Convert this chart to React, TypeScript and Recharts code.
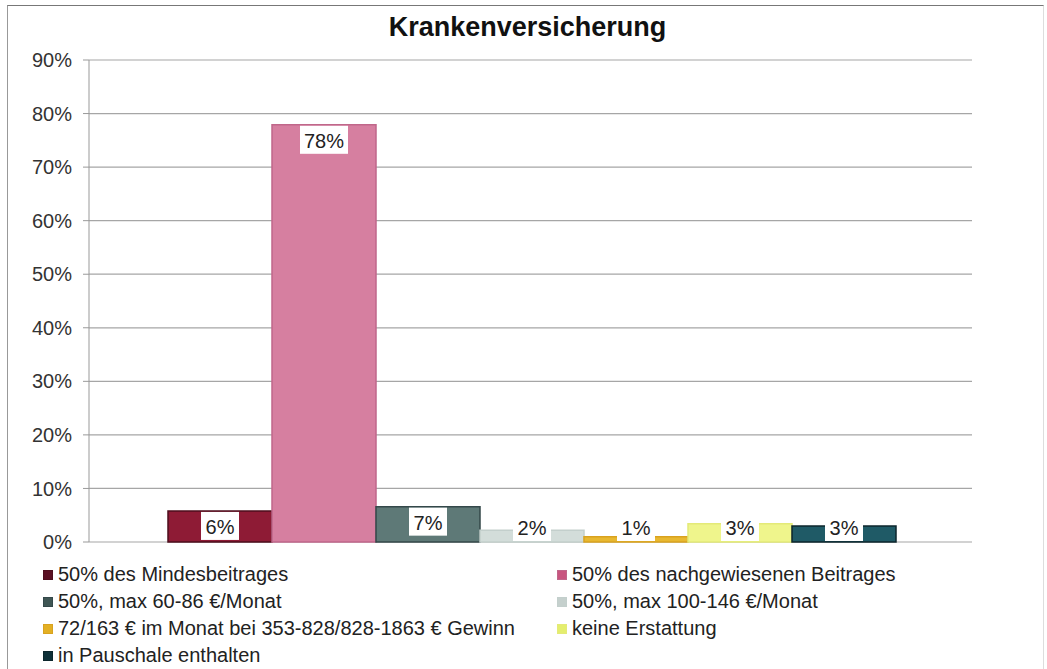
import React from "react";
import { BarChart, Bar, XAxis, YAxis, CartesianGrid, Legend, LabelList } from "recharts";

const categories = ["Krankenversicherung"];
const seriesNames = [
  "50% des Mindesbeitrages",
  "50% des nachgewiesenen Beitrages",
  "50%, max 60-86 €/Monat",
  "50%, max 100-146 €/Monat",
  "72/163 € im Monat bei 353-828/828-1863 € Gewinn",
  "keine Erstattung",
  "in Pauschale enthalten",
];
const seriesValues = [5.8, 77.9, 6.6, 2.2, 1.0, 3.4, 3.0];
const yTicks = [0, 10, 20, 30, 40, 50, 60, 70, 80, 90];

const fills = ["#8E1B35", "#D67FA0", "#5E7977", "#D3DDDA", "#E8B830", "#EFF58C", "#1F5A66"];
const strokes = ["#4E0E1D", "#C0678A", "#34484A", "#C3CFCC", "#D9A21F", "#E4EA78", "#0C262C"];
const markerFills = ["#5A0F22", "#C8557F", "#3F5654", "#C5D0CD", "#E3B024", "#E4EE6E", "#0E3038"];

const FONT = "'Liberation Sans', Arial, sans-serif";

const data = categories.map((c) => {
  const row: Record<string, string | number> = { name: c };
  seriesValues.forEach((v, i) => (row["s" + i] = v));
  return row;
});

const BoxLabel = (props: any) => {
  const { x, y, width, height, value } = props;
  const text = `${Math.round(value)}%`;
  const bh = 28;
  const bw = 18 + 10 * text.length;
  const base = y + height;
  const top = Math.min(y + 1, base - bh - 1);
  const cx = x + width / 2;
  return (
    <g>
      <rect x={cx - bw / 2} y={top} width={bw} height={bh} fill="#ffffff" />
      <text
        x={cx}
        y={top + bh / 2 + 1}
        textAnchor="middle"
        dominantBaseline="central"
        fontFamily={FONT}
        fontSize={20}
        fill="#222"
      >
        {text}
      </text>
    </g>
  );
};

const LegendContent = () => (
  <div
    style={{
      display: "grid",
      gridTemplateColumns: "514px 480px",
      gridAutoRows: "27px",
      fontFamily: FONT,
      fontSize: 20,
      color: "#222",
    }}
  >
    {seriesNames.map((n, i) => (
      <div key={n} style={{ display: "flex", alignItems: "center", whiteSpace: "nowrap" }}>
        <span
          style={{
            display: "inline-block",
            width: 8,
            height: 8,
            background: markerFills[i],
            border: `1px solid ${strokes[i]}`,
            marginRight: 5,
          }}
        />
        {n}
      </div>
    ))}
  </div>
);

export default function App() {
  return (
    <div style={{ position: "absolute", left: 0, top: 0, width: 1047, height: 669, background: "#fff", overflow: "hidden" }}>
      <div
        style={{
          position: "absolute",
          left: 7,
          top: 5,
          width: 1035,
          height: 700,
          borderTop: "1px solid #777",
          borderLeft: "1px solid #999",
          borderRight: "1px solid #ddd",
        }}
      />
      <div
        style={{
          position: "absolute",
          left: 0,
          width: 1055,
          top: 12,
          textAlign: "center",
          fontFamily: FONT,
          fontWeight: "bold",
          fontSize: 27,
          color: "#111",
        }}
      >
        Krankenversicherung
      </div>
      <BarChart
        width={1047}
        height={669}
        data={data}
        margin={{ top: 60, right: 75, left: 9, bottom: 127 }}
        barCategoryGap={79}
        barGap={0}
      >
        <CartesianGrid vertical={false} stroke="#a6a6a6" strokeWidth={1.2} />
        <XAxis dataKey="name" tick={false} tickLine={false} axisLine={{ stroke: "#999" }} height={0} />
        <YAxis
          width={80}
          domain={[0, 90]}
          ticks={yTicks}
          interval={0}
          tickFormatter={(v) => `${v}%`}
          tickSize={6}
          tickMargin={11}
          tickLine={{ stroke: "#999" }}
          axisLine={{ stroke: "#999" }}
          tick={{ fontFamily: FONT, fontSize: 20, fill: "#333" }}
        />
        <Legend
          layout="horizontal"
          verticalAlign="middle"
          align="center"
          wrapperStyle={{ left: 43, top: 561, width: 1000 }}
          content={<LegendContent />}
        />
        {seriesNames.map((n, i) => (
          <Bar
            key={n}
            dataKey={"s" + i}
            name={n}
            fill={fills[i]}
            stroke={strokes[i]}
            strokeWidth={1.5}
            isAnimationActive={false}
          >
            <LabelList dataKey={"s" + i} content={<BoxLabel />} />
          </Bar>
        ))}
      </BarChart>
    </div>
  );
}
